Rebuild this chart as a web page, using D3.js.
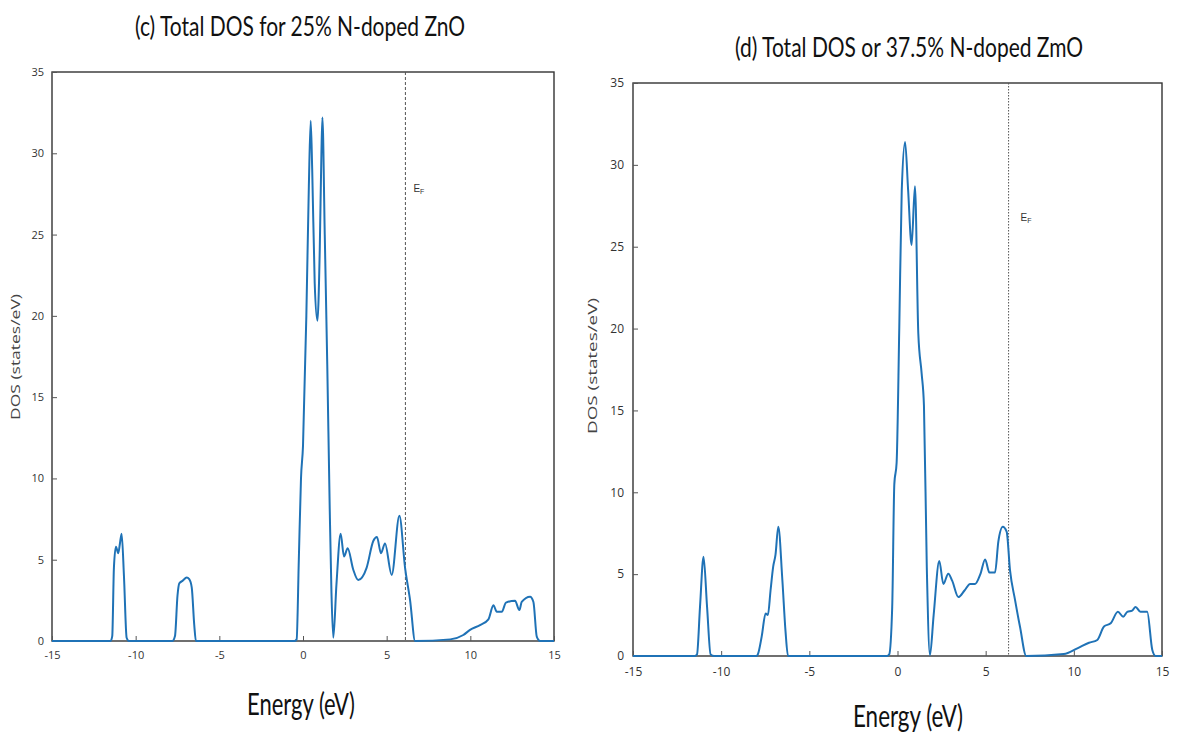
<!DOCTYPE html>
<html><head><meta charset="utf-8">
<script src="https://cdn.jsdelivr.net/npm/d3@7"></script>
<style>body{margin:0;background:#fff}svg{display:block}</style>
</head><body>
<svg id="c" width="1177" height="741"></svg>
<script>
const xTicks = [-15,-10,-5,0,5,10,15];
const yTicks = [0,5,10,15,20,25,30,35];
const titleC = "(c) Total DOS for 25% N-doped ZnO";
const titleD = "(d) Total DOS or 37.5% N-doped ZmO";
const xLabel = "Energy (eV)";
const yLabel = "DOS (states/eV)";
const fermiC = 6.12;
const fermiD = 6.3;

const energyC = [-15,-11.5,-11.4,-11.3,-11.18,-11.04,-10.94,-10.84,-10.7,-10.54,-10.4,
 -7.8,-7.65,-7.5,-7.39,-7.2,-6.95,-6.8,-6.65,-6.5,-6.4,
 -0.5,-0.38,-0.25,-0.12,0.0,0.2,0.35,0.46,0.55,0.7,0.86,1.0,1.1,1.16,1.3,1.45,1.6,1.7,1.81,
 2.0,2.25,2.45,2.67,3.0,3.3,3.8,4.2,4.42,4.66,4.9,5.3,5.76,6.1,6.4,6.7,
 8.8,9.58,9.98,10.58,11.08,11.38,11.58,11.88,12.13,12.67,12.93,13.07,13.57,13.77,13.97,14.17,15];
const dosC = [0,0,0.3,4.5,5.8,5.4,6.0,6.6,4.0,0.2,0,
 0,0.3,2.8,3.55,3.7,3.9,3.8,3.3,1.0,0,
 0,0.1,5,10,12,20,28,32.0,29,22,19.7,24,30,32.2,25,17,8,3,0.2,
 3.5,6.6,5.2,5.7,4.4,3.75,4.5,6.15,6.4,5.4,6.0,4.06,7.7,4.5,2.5,0,
 0.1,0.37,0.68,0.98,1.33,2.2,1.8,1.8,2.36,2.48,1.9,2.4,2.72,2.4,0.27,0,0];

const energyD = [-15,-11.5,-11.37,-11.2,-11.0,-10.8,-10.6,-10.4,
 -8.0,-7.92,-7.7,-7.48,-7.35,-7.2,-7.05,-6.92,-6.76,-6.53,-6.35,-6.21,
 -0.6,-0.47,-0.3,-0.18,-0.05,0.1,0.24,0.43,0.6,0.8,0.99,1.18,1.37,1.5,1.66,1.84,
 2.05,2.37,2.6,2.88,3.1,3.45,3.8,4.12,4.4,4.7,4.97,5.21,5.53,5.72,5.97,6.19,6.38,6.67,6.95,7.3,
 9.43,10.2,10.86,11.33,11.71,12.09,12.5,12.8,13.03,13.31,13.5,13.78,14.16,14.45,14.64,15];
const dosD = [0,0,0.1,3.0,6.07,3.0,0.1,0,
 0,0.1,1.2,2.6,2.5,4.0,5.46,6.17,7.9,4.64,1.5,0,
 0,0.1,3,10.5,11.8,20,28.4,31.4,28.5,25.1,28.7,19.7,17.25,15.3,5.5,0.05,
 2.5,5.8,4.4,5.03,4.6,3.6,4.0,4.4,4.4,5.0,5.9,5.1,5.1,7.0,7.9,7.6,5.25,3.4,1.77,0,
 0.12,0.47,0.81,0.98,1.8,2.0,2.7,2.4,2.7,2.77,3.0,2.7,2.7,0.37,0,0];

const svg = d3.select("#c");

function panel(o){
  const x = d3.scaleLinear().domain([-15,15]).range([o.left,o.right]);
  const y = d3.scaleLinear().domain([0,35]).range([o.bottom,o.top]);
  const g = svg.append("g");
  g.append("rect").attr("x",o.left).attr("y",o.top)
    .attr("width",o.right-o.left).attr("height",o.bottom-o.top)
    .attr("fill","none").attr("stroke","#333").attr("stroke-width",1.4);
  const fmt = d => String(d);
  const ax = g.append("g").attr("transform",`translate(0,${o.bottom})`)
    .call(d3.axisBottom(x).tickValues(xTicks).tickSize(-5).tickPadding(o.xpad).tickFormat(fmt));
  const ay = g.append("g").attr("transform",`translate(${o.left},0)`)
    .call(d3.axisLeft(y).tickValues(yTicks).tickSize(-5).tickPadding(o.ypad).tickFormat(fmt));
  [ax,ay].forEach(a=>{
    a.select(".domain").remove();
    a.selectAll(".tick line").attr("stroke","#555");
    a.selectAll(".tick text").attr("fill","#333").style("font-family",o.tickFont)
      .style("font-size",o.tickSize+"px");
  });
  g.append("line").attr("x1",x(o.fermi)).attr("x2",x(o.fermi))
    .attr("y1",o.top).attr("y2",o.bottom)
    .attr("stroke","#555").attr("stroke-width",1).attr("stroke-dasharray",o.dash);
  const ef = g.append("text").attr("x",x(o.fermi)+o.efdx).attr("y",o.efy)
    .style("font-family","Liberation Sans, Arial").style("font-size","10px").attr("fill","#333");
  ef.append("tspan").text("E");
  ef.append("tspan").attr("dy",2).style("font-size","7px").text("F");
  const line = d3.line().x((d,i)=>x(o.e[i])).y(d=>y(d)).curve(d3.curveMonotoneX);
  g.append("path").datum(o.d).attr("d",line).attr("fill","none")
    .attr("stroke","#1f72b6").attr("stroke-width",2).attr("stroke-linejoin","round");
  svg.append("text").attr("x",o.titleX).attr("y",o.titleY).attr("text-anchor","middle")
    .attr("textLength",o.titleW).attr("lengthAdjust","spacingAndGlyphs")
    .style("font-family","Lato, 'Open Sans', sans-serif").style("font-size","26px").attr("fill","#111")
    .text(o.title);
  svg.append("text").attr("x",o.xlX).attr("y",o.xlY).attr("text-anchor","middle")
    .attr("textLength",o.xlW).attr("lengthAdjust","spacingAndGlyphs")
    .style("font-family","Lato, 'Open Sans', sans-serif").style("font-size","30px").attr("fill","#111")
    .text(xLabel);
  svg.append("text").attr("transform",`translate(${o.ylX},${o.ylY}) rotate(-90)`).attr("text-anchor","middle")
    .attr("textLength",o.ylW).attr("lengthAdjust","spacingAndGlyphs")
    .style("font-family","'Open Sans', sans-serif").style("font-size","13px").attr("fill","#444")
    .text(yLabel);
}

panel({left:52,right:554,top:72,bottom:641,e:energyC,d:dosC,fermi:fermiC,dash:"3,2",
  efdx:8,efy:192,xpad:10,ypad:8,tickFont:"'Liberation Sans Narrow','Open Sans',sans-serif",tickSize:11,
  title:titleC,titleX:300,titleY:36,titleW:330,xlX:301,xlY:715,xlW:108,ylX:20,ylY:357,ylW:126});
panel({left:633,right:1162,top:83,bottom:656,e:energyD,d:dosD,fermi:fermiD,dash:"1.5,1.5",
  efdx:12,efy:221,xpad:11,ypad:9,tickFont:"'Open Sans',sans-serif",tickSize:12,
  title:titleD,titleX:909,titleY:57,titleW:348,xlX:908,xlY:727,xlW:110,ylX:597,ylY:366,ylW:136});
</script>
</body></html>
